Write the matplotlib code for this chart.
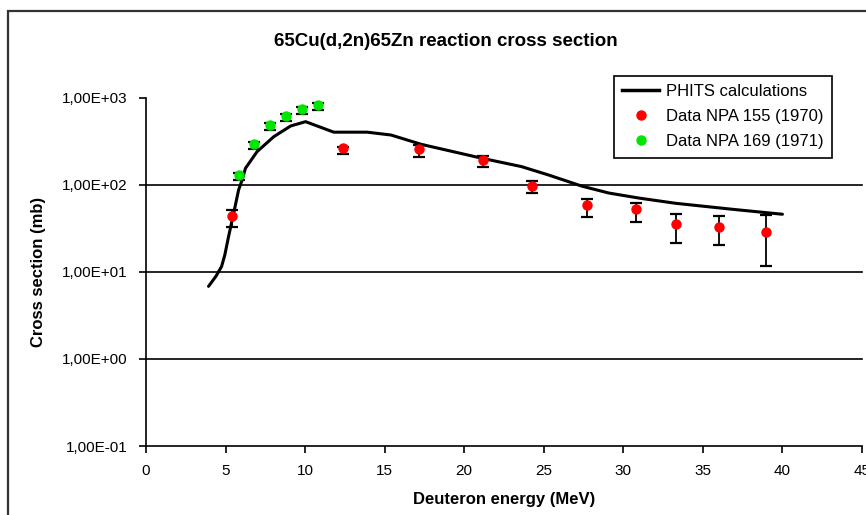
import numpy as np
import matplotlib
matplotlib.use("Agg")
import matplotlib.pyplot as plt
from matplotlib.patches import Rectangle
from matplotlib.lines import Line2D
from matplotlib.ticker import FixedLocator, FuncFormatter

plt.rcParams["font.family"] = ["Liberation Sans", "DejaVu Sans"]

# PHITS model curve
phits_e = [3.93, 4.4, 4.75, 4.95, 5.19, 5.51, 5.82, 6.04, 6.25, 6.98, 8.03, 9.09, 10.03,
           11.8, 13.9, 15.4, 17.3, 21.1, 23.6, 25.3, 27.4, 29.1, 31.0, 33.3, 36.9, 40.0]
phits_xs = [6.8, 8.9, 11.5, 15.5, 25.4, 47, 87, 113, 154, 239, 355, 471, 528,
            400, 400, 371, 290, 201, 161, 129, 96, 80, 70, 61, 52, 45.7]

# NPA 155 (1970)
npa155_e = [5.4, 12.35, 17.18, 21.18, 24.23, 27.7, 30.8, 33.33, 36.0, 38.95]
npa155_xs = [44, 261, 255, 192, 97.5, 58.5, 52.3, 35.4, 33, 28.4]
npa155_lo = [32.5, 225, 209, 161, 79.6, 43, 37, 21.6, 20.3, 11.5]
npa155_hi = [51, 272, 285, 213, 110, 68, 61.3, 46.1, 43.7, 45]

# NPA 169 (1971)
npa169_e = [5.82, 6.77, 7.78, 8.77, 9.82, 10.83]
npa169_xs = [129, 293, 484, 614, 733, 820]
npa169_lo = [113, 258, 426, 540, 645, 722]
npa169_hi = [135, 307, 508, 645, 770, 861]

W, H = 866, 515
fig = plt.figure(figsize=(W / 100, H / 100), dpi=100)
ax = fig.add_axes([146 / W, 1 - 446 / H, (862 - 146) / W, (446 - 97.5) / H])

# outer chart frame (runs off the right/bottom edge)
fig.add_artist(Rectangle((8 / W, -0.2), 1.2, 1.2 - 11 / H, transform=fig.transFigure,
                         fill=False, edgecolor="#333333", lw=1.6, clip_on=False))

ax.set_yscale("log")
ax.set_xlim(0, 45)
ax.set_ylim(0.1, 1000)

for g in (1, 10, 100):
    ax.axhline(g, color="black", lw=1.2, zorder=1, clip_on=False)

ax.plot(phits_e, phits_xs, color="black", lw=2.2, zorder=3, solid_capstyle="round",
        solid_joinstyle="round")

def err(v, lo, hi):
    v, lo, hi = map(np.asarray, (v, lo, hi))
    return [v - lo, hi - v]

red, green = "#ff0000", "#00e600"
ax.errorbar(npa155_e, npa155_xs, yerr=err(npa155_xs, npa155_lo, npa155_hi), fmt="o",
            color=red, ms=6.5, ecolor="black", elinewidth=1.3, capsize=4, capthick=1.6, zorder=4)
ax.errorbar(npa169_e, npa169_xs, yerr=err(npa169_xs, npa169_lo, npa169_hi), fmt="o",
            color=green, ms=6.5, ecolor="black", elinewidth=1.3, capsize=4, capthick=1.6, zorder=4)

ax.spines["top"].set_visible(False)
ax.spines["right"].set_visible(False)
for s in ("left", "bottom"):
    ax.spines[s].set_linewidth(1.2)

ax.xaxis.set_major_locator(FixedLocator(range(0, 46, 5)))
ax.yaxis.set_major_locator(FixedLocator([0.1, 1, 10, 100, 1000]))
ax.yaxis.set_minor_locator(FixedLocator([]))
ax.yaxis.set_major_formatter(FuncFormatter(lambda v, p: f"{v:.2E}".replace(".", ",")))
ax.tick_params(axis="both", direction="out", length=5, width=1.2, labelsize=11)
ax.tick_params(axis="x", pad=8)
ax.tick_params(axis="y", pad=8)

ax.set_xlabel("Deuteron energy (MeV)", fontsize=12, fontweight="bold", labelpad=10)
ax.set_ylabel("Cross section (mb)", fontsize=12, fontweight="bold", labelpad=12)
fig.text(446 / W, 1 - 42 / H, "65Cu(d,2n)65Zn reaction cross section", ha="center", va="center",
         fontsize=13.5, fontweight="bold")

handles = [
    Line2D([], [], color="black", lw=2.5),
    Line2D([], [], ls="none", marker="o", color=red, ms=6.5),
    Line2D([], [], ls="none", marker="o", color=green, ms=6.5),
]
labels = ["PHITS calculations", "Data NPA 155 (1970)", "Data NPA 169 (1971)"]
leg = ax.legend(handles, labels, loc="upper left", bbox_to_anchor=(614 / W, 1 - 76 / H),
                bbox_transform=fig.transFigure, borderaxespad=0, fancybox=False,
                edgecolor="black", framealpha=1, fontsize=12, handlelength=2.2,
                handletextpad=0.4, borderpad=0.5, labelspacing=0.6)
leg.get_frame().set_linewidth(1.2)

fig.savefig("out.png", dpi=100)
